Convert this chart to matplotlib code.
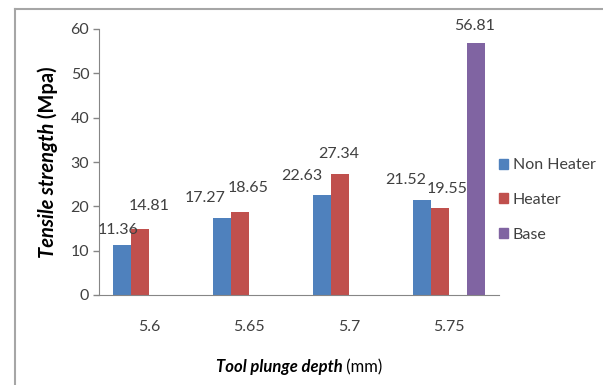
import matplotlib.pyplot as plt
from matplotlib.lines import Line2D
from matplotlib.patches import Patch

# data
depths = ['5.6', '5.65', '5.7', '5.75']
non_heater = [11.36, 17.27, 22.63, 21.52]
heater = [14.81, 18.65, 27.34, 19.55]
base_depth = '5.75'
base_value = 56.81

blue = '#4F81BD'
red = '#C0504D'
purple = '#8064A2'
txt = '#404040'

# label nudges (pixels) - the excel labels were dragged around a bit
blue_off = [(-4, 15), (-17, 20), (-20, 19), (-16, 20)]
red_off = [(9, 23), (8, 24), (-1, 20), (7, 19)]
base_off = [(-1, 17)]

plt.rcParams['font.family'] = ['Lato', 'DejaVu Sans']
fs = 11.5

fig = plt.figure(figsize=(6.03, 3.85), dpi=100)
ax = fig.add_axes([99/603, 1-295/385, 400/603, 266/385])

x = [i + 0.5 for i in range(len(depths))]
w = 0.18

# 4 slots per category (third one empty), like the original excel chart
b1 = ax.bar([v - 1.5*w for v in x], non_heater, w, color=blue, label='Non Heater')
b2 = ax.bar([v - 0.5*w for v in x], heater, w, color=red, label='Heater')
bi = depths.index(base_depth)
b3 = ax.bar([x[bi] + 1.5*w], [base_value], w, color=purple, label='Base')

# value labels
for bars, offs in [(b1, blue_off), (b2, red_off), (b3, base_off)]:
    for r, (dx, dy) in zip(bars, offs):
        h = r.get_height()
        ax.annotate(f'{h:.2f}', (r.get_x() + r.get_width()/2, h),
                    xytext=(dx, dy), textcoords='offset pixels',
                    ha='center', va='center', fontsize=fs, color=txt)

ax.set_xlim(0, len(depths))
ax.set_ylim(0, 60)
ax.set_yticks(range(0, 61, 10))
ax.set_xticks(x)
ax.set_xticklabels(depths)
ax.tick_params(axis='x', length=0, pad=18, colors=txt, labelsize=fs)
ax.tick_params(axis='y', length=4, pad=3, colors=txt, labelsize=fs, width=1)
for s in ['top', 'right']:
    ax.spines[s].set_visible(False)
ax.spines['left'].set_color('#868686')
ax.spines['bottom'].set_color('#868686')
ax.tick_params(axis='y', color='#868686')

# axis labels: bold italic part + normal part
fig.canvas.draw()
r = fig.canvas.get_renderer()
t1 = fig.text(0, 0, 'Tool plunge depth', fontsize=12, fontweight='bold',
              fontstyle='italic', color='black', va='center')
t2 = fig.text(0, 0, ' (mm)', fontsize=12, color='black', va='center')
w1 = t1.get_window_extent(r).width
w2 = t2.get_window_extent(r).width
xc = 299
yc = 385 - 367
t1.set_position(((xc - (w1 + w2)/2)/603, yc/385))
t2.set_position(((xc - (w1 + w2)/2 + w1)/603, yc/385))

t3 = fig.text(0, 0, 'Tensile strength', fontsize=14.5, fontweight='bold',
              fontstyle='italic', color='black', rotation=90, ha='center', va='bottom')
t4 = fig.text(0, 0, ' (Mpa)', fontsize=14.5, fontweight='bold', color='black',
              rotation=90, ha='center', va='bottom')
h1 = t3.get_window_extent(r).height
h2 = t4.get_window_extent(r).height
yc2 = 385 - 162
t3.set_position((48/603, (yc2 - (h1 + h2)/2)/385))
t4.set_position((48/603, (yc2 - (h1 + h2)/2 + h1)/385))

handles = [Patch(color=blue), Patch(color=red), Patch(color=purple)]
leg = fig.legend(handles, ['Non Heater', 'Heater', 'Base'], loc='center left',
                 bbox_to_anchor=(485/603, 1-200/385), frameon=False,
                 handlelength=0.55, handleheight=0.6, handletextpad=0.3,
                 labelspacing=1.3, fontsize=fs)
for t in leg.get_texts():
    t.set_color(txt)

# outer chart border
fig.add_artist(Line2D([15/603, 15/603], [0, 1-9/385], transform=fig.transFigure,
                      color='#A6A6A6', lw=1.5))
fig.add_artist(Line2D([15/603, 1], [1-9/385, 1-9/385], transform=fig.transFigure,
                      color='#A6A6A6', lw=1.5))

fig.savefig('out.png', dpi=100)
